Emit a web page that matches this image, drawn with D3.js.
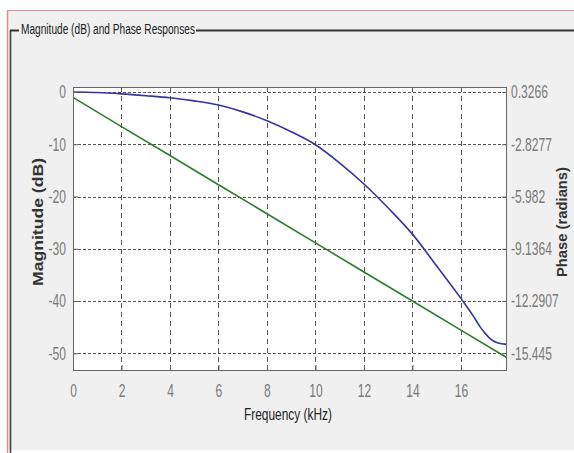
<!DOCTYPE html>
<html>
<head>
<meta charset="utf-8">
<script src="https://cdn.jsdelivr.net/npm/d3@7"></script>
<style>
html,body{margin:0;padding:0;background:#fff;overflow:hidden;}
svg{display:block;font-family:Arial,"Liberation Sans",sans-serif;}
</style>
</head>
<body>
<svg id="chart" width="574" height="453"></svg>
<script>
// ── DONNÉES ───────────────────────────────────────────────────────────────
var FREQ_MAG=[0,1,2,3,4,5,6,7,8,9,10,11,12,13,14,15,16,16.5,16.8,17,17.2,17.5,17.9];
var MAG_DB=[0,-0.1,-0.35,-0.7,-1.1,-1.7,-2.5,-3.8,-5.5,-7.6,-10.1,-13.6,-17.6,-22.2,-27.2,-33.3,-39.5,-42.8,-45.0,-46.2,-47.2,-48.0,-48.3];
var FREQ_PHASE=[0,2,4,6,8,10,12,14,16,17.9];
var PHASE_RAD=[0,-1.76,-3.51,-5.27,-7.02,-8.78,-10.54,-12.29,-14.05,-15.72];
var X_TICKS=[0,2,4,6,8,10,12,14,16];
var MAG_TICKS=[0,-10,-20,-30,-40,-50];
var PHASE_TICKS=["0.3266","-2.8277","-5.982","-9.1364","-12.2907","-15.445"];

var TITLE="Magnitude (dB) and Phase Responses";
var X_LABEL="Frequency (kHz)";
var Y_LABEL="Magnitude (dB)";
var Y2_LABEL="Phase (radians)";

// ── GÉOMÉTRIE ─────────────────────────────────────────────────────────────
var W=574,H=453;
var L=73,R=507,T=87,B=371;
var SX=0.67; // glyphes étroits comme sur l'original

var svg=d3.select("#chart");

// fond du panneau + cadre
svg.append("rect").attr("width",W).attr("height",H).attr("fill","#fff");
svg.append("rect").attr("x",7).attr("y",10).attr("width",W-7).attr("height",440).attr("fill","#f0f0f0");
svg.append("line").attr("x1",7.5).attr("x2",W).attr("y1",10.5).attr("y2",10.5).attr("stroke","#e08a8a").attr("stroke-width",1);
svg.append("line").attr("x1",7.5).attr("x2",7.5).attr("y1",10.5).attr("y2",H).attr("stroke","#d89090").attr("stroke-width",1.5);
svg.append("line").attr("x1",10.5).attr("x2",10.5).attr("y1",30).attr("y2",H).attr("stroke","#444").attr("stroke-width",1.6);
svg.append("line").attr("x1",10).attr("x2",19).attr("y1",30.5).attr("y2",30.5).attr("stroke","#333").attr("stroke-width",2);
svg.append("line").attr("x1",196).attr("x2",W).attr("y1",30.5).attr("y2",30.5).attr("stroke","#333").attr("stroke-width",2);
svg.append("text").attr("x",21).attr("y",34).attr("font-size",14).attr("fill","#222")
  .attr("textLength",174).attr("lengthAdjust","spacingAndGlyphs").text(TITLE);

// ── ÉCHELLES ──────────────────────────────────────────────────────────────
var x=d3.scaleLinear().domain([0,17.9]).range([L,R]);
var y=d3.scaleLinear().domain([-53.4,0.96]).range([B,T]);
// phase alignée sur la grille : 0.3266 ↔ 0 dB, -15.445 ↔ -50 dB
var y2=d3.scaleLinear().domain([-15.445,0.3266]).range([y(-50),y(0)]);

// zone de tracé
svg.append("rect").attr("x",L).attr("y",T).attr("width",R-L).attr("height",B-T).attr("fill","#fff");

// grille
var grid=svg.append("g").attr("stroke","#555").attr("stroke-width",1);
grid.selectAll("line.v").data(X_TICKS.slice(1)).enter().append("line")
  .attr("x1",function(d){return Math.round(x(d))+0.5;}).attr("x2",function(d){return Math.round(x(d))+0.5;})
  .attr("y1",T).attr("y2",B).attr("stroke-dasharray","5,4");
grid.selectAll("line.h").data(MAG_TICKS).enter().append("line")
  .attr("x1",L).attr("x2",R)
  .attr("y1",function(d){return Math.round(y(d))+0.5;}).attr("y2",function(d){return Math.round(y(d))+0.5;})
  .attr("stroke-dasharray","3,2");

// courbes
svg.append("clipPath").attr("id","clip").append("rect").attr("x",L).attr("y",T).attr("width",R-L).attr("height",B-T);
var phaseLine=d3.line().x(function(d,i){return x(FREQ_PHASE[i]);}).y(function(d){return y2(d);});
var magLine=d3.line().curve(d3.curveMonotoneX).x(function(d,i){return x(FREQ_MAG[i]);}).y(function(d){return y(d);});
svg.append("path").datum(PHASE_RAD).attr("d",phaseLine).attr("fill","none")
  .attr("stroke","#2d7d2d").attr("stroke-width",1.6).attr("clip-path","url(#clip)");
svg.append("path").datum(MAG_DB).attr("d",magLine).attr("fill","none")
  .attr("stroke","#3434a4").attr("stroke-width",1.6).attr("clip-path","url(#clip)");

// ── AXES ──────────────────────────────────────────────────────────────────
var tickCol="#7a7a7a";
var plain=function(d){return String(d);}; // trait d'union, pas de signe moins unicode
var xAxis=d3.axisBottom(x).tickValues(X_TICKS).tickFormat(plain).tickSizeInner(-6).tickSizeOuter(0).tickPadding(13);
var gx=svg.append("g").attr("transform","translate(0,"+B+")").call(xAxis);
var yAxis=d3.axisLeft(y).tickValues(MAG_TICKS).tickFormat(plain).tickSizeInner(-5).tickSizeOuter(0);
var gy=svg.append("g").attr("transform","translate("+L+",0)").call(yAxis);
var y2Axis=d3.axisRight(y2).tickValues(PHASE_TICKS.map(Number))
  .tickFormat(function(d,i){return PHASE_TICKS[i];}).tickSizeInner(-5).tickSizeOuter(0);
var gy2=svg.append("g").attr("transform","translate("+R+",0)").call(y2Axis);

[gx,gy,gy2].forEach(function(g){
  g.select(".domain").remove();
  g.selectAll(".tick line").attr("stroke","#666");
  g.selectAll(".tick text").attr("fill",tickCol).attr("font-size",18)
    .attr("font-family","Arial,'Liberation Sans',sans-serif");
});
gx.selectAll(".tick text").attr("transform","scale("+SX+",1)").attr("x",0);
gy.selectAll(".tick text").attr("transform","scale("+SX+",1)").attr("x",-7/SX);
gy2.selectAll(".tick text").attr("transform","scale("+SX+",1)").attr("x",4/SX);

// cadre de la zone de tracé
svg.append("rect").attr("x",L+0.5).attr("y",T+0.5).attr("width",R-L-1).attr("height",B-T-1)
  .attr("fill","none").attr("stroke","#666").attr("stroke-width",1);

// libellés
svg.append("text").attr("x",288).attr("y",420).attr("text-anchor","middle")
  .attr("font-size",17).attr("fill","#222").attr("textLength",88).attr("lengthAdjust","spacingAndGlyphs").text(X_LABEL);
svg.append("text").attr("transform","translate(43,222) rotate(-90)").attr("text-anchor","middle")
  .attr("font-size",15).attr("font-weight","bold").attr("fill","#333")
  .attr("textLength",128).attr("lengthAdjust","spacingAndGlyphs").text(Y_LABEL);
svg.append("text").attr("transform","translate(567,222) rotate(-90)").attr("text-anchor","middle")
  .attr("font-size",14).attr("font-weight","bold").attr("fill","#333")
  .attr("textLength",110).attr("lengthAdjust","spacingAndGlyphs").text(Y2_LABEL);
</script>
</body>
</html>
